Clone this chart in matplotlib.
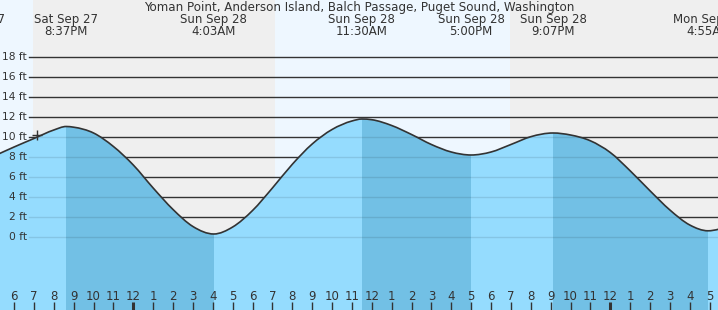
import numpy as np
import matplotlib.pyplot as plt
from matplotlib.path import Path
from matplotlib.patches import PathPatch

title = 'Yoman Point, Anderson Island, Balch Passage, Puget Sound, Washington'

# hours from midnight Sat/Sun, heights in ft
hours = list(range(-7, 31))
heights = [8.1, 9.0, 9.85, 10.7, 10.98, 10.4, 9.05, 7.2, 4.9, 2.75,
           1.05, 0.31, 1.0, 2.65, 4.9, 7.27, 9.3, 10.75, 11.6, 11.73,
           11.15, 10.25, 9.25, 8.5, 8.2, 8.5, 9.25, 10.03, 10.38, 10.2,
           9.62, 8.45, 6.62, 4.62, 2.7, 1.2, 0.63, 1.05]

# high / low tides
tide_hours = [-8.08, -3.38, 4.05, 11.5, 17.0, 21.12, 28.92]
tide_heights = [None, 11.05, 0.3, 11.8, 8.2, 10.4, 0.62]
tide_dates = ['Sat Sep 27', 'Sat Sep 27', 'Sun Sep 28', 'Sun Sep 28',
              'Sun Sep 28', 'Sun Sep 28', 'Mon Sep 29']
tide_times = ['3:55PM', '8:37PM', '4:03AM', '11:30AM', '5:00PM', '9:07PM', '4:55AM']

# sunset / sunrise
night_spans = [(-5.05, 7.13), (18.94, 31.15)]

levels = list(range(0, 20, 2))
now_hour, now_height = -4.83, 10.2

day_bg = '#eef7ff'
night_bg = '#efefef'
water = '#95dcfe'
water_dark = '#72c0e5'
ink = '#333333'

# merge readings with the tide extremes
known = [th for th, hh in zip(tide_hours, tide_heights) if hh is not None]
t = [hr for hr in hours if min(abs(hr - k) for k in known) > 0.15]
h = [hh for hr, hh in zip(hours, heights) if min(abs(hr - k) for k in known) > 0.15]
for th, hh in zip(tide_hours, tide_heights):
    if hh is not None:
        t.append(th)
        h.append(hh)
order = np.argsort(t)
t = np.array(t, dtype=float)[order]
h = np.array(h, dtype=float)[order]
m = np.gradient(h, t)
for k in known:
    m[np.isclose(t, k)] = 0.0

# smooth bezier through the readings
curve = [(t[0], h[0])]
codes = [Path.MOVETO]
for i in range(len(t) - 1):
    dt = t[i + 1] - t[i]
    curve += [(t[i] + dt / 3, h[i] + m[i] * dt / 3),
              (t[i + 1] - dt / 3, h[i + 1] - m[i + 1] * dt / 3),
              (t[i + 1], h[i + 1])]
    codes += [Path.CURVE4] * 3
line_path = Path(curve, codes)
fill_path = Path([(t[0], -8)] + curve + [(t[-1], -8), (t[0], -8)],
                 [Path.MOVETO] + [Path.LINETO] + codes[1:] + [Path.LINETO, Path.CLOSEPOLY])

fig = plt.figure(figsize=(7.18, 3.10), dpi=100)
ax = fig.add_axes([0, 0, 1, 1])
ax.set_xlim(-6.707, 29.42)
ax.set_ylim(-7.3, 23.7)
ax.axis('off')

ax.axvspan(-10, 40, color=day_bg, lw=0, zorder=0)
for a, b in night_spans:
    ax.axvspan(a, b, color=night_bg, lw=0, zorder=0)

gx0 = 29 / 718
for lvl in levels:
    ax.axhline(lvl, xmin=gx0, color=ink, lw=1.0, zorder=1)

fill = PathPatch(fill_path, facecolor=water, lw=0, zorder=3)
ax.add_patch(fill)

# falling tide bands are darker
for i in range(len(tide_hours) - 1):
    hh = tide_heights[i]
    nxt = tide_heights[i + 1]
    if hh is not None and nxt is not None and hh > nxt:
        band = ax.axvspan(tide_hours[i], tide_hours[i + 1], color=water_dark, lw=0, zorder=4)
        band.set_clip_path(fill)

for lvl in levels:
    ln = ax.axhline(lvl, xmin=gx0, color='k', alpha=0.1, lw=1.0, zorder=5)
    ln.set_clip_path(fill)

ax.add_patch(PathPatch(line_path, facecolor='none', edgecolor=ink, lw=1.2, zorder=6))
ax.plot([now_hour], [now_height], marker='+', color=ink, ms=7, mew=1, zorder=7)

ytr = ax.get_yaxis_transform()
for lvl in levels:
    ax.text(27 / 718, lvl, '%d ft' % lvl, transform=ytr, ha='right', va='center',
            fontsize=7.7, color=ink, zorder=8)

ax.text(0.5, 22.6, title, transform=ytr, ha='center', va='baseline', fontsize=8.6, color=ink, zorder=8)
for th, d, tm in zip(tide_hours, tide_dates, tide_times):
    ax.text(th, 21.37, d, ha='center', va='baseline', fontsize=8.5, color=ink, zorder=8)
    ax.text(th, 20.17, tm, ha='center', va='baseline', fontsize=8.5, color=ink, zorder=8)

for hr in range(-6, 30):
    lab = hr % 12
    if lab == 0:
        lab = 12
    ax.text(hr, -6.3, str(lab), ha='center', va='baseline', fontsize=8.5, color=ink, zorder=8)
    lw = 2.2 if hr % 24 == 0 else 1.0
    ax.plot([hr, hr], [-7.3, -6.47], color=ink, lw=lw, solid_capstyle='butt', zorder=8)

fig.savefig('out.png', dpi=100)
